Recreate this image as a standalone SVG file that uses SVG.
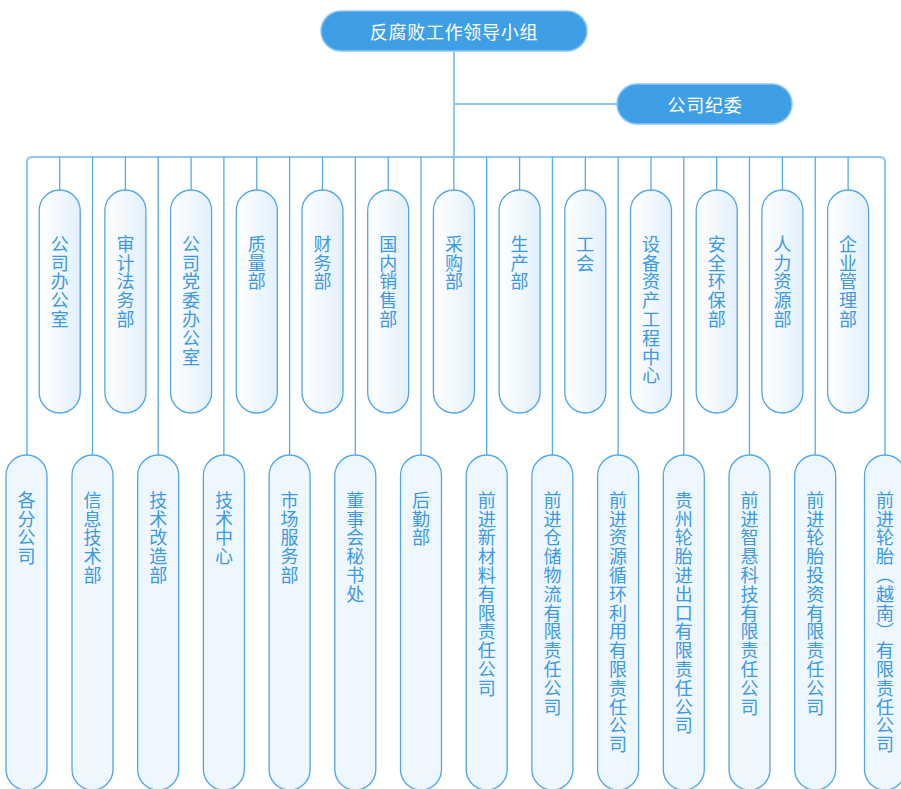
<svg xmlns="http://www.w3.org/2000/svg" width="901" height="789" viewBox="0 0 901 789">
<defs>
<linearGradient id="gTop" x1="0" y1="0" x2="1" y2="0">
<stop offset="0" stop-color="#ffffff"/>
<stop offset="1" stop-color="#e2f0fc"/>
</linearGradient>
<style>
.head{fill:#3f9fe6;stroke:#8cc7f2;stroke-width:1.5}
.headt{font-family:"Noto Sans CJK SC","Noto Sans",sans-serif;font-size:18px;fill:#ffffff;text-anchor:middle;dominant-baseline:central;letter-spacing:0.7px}
.tb{fill:url(#gTop);stroke:#4fa6e8;stroke-width:1.3}
.bb{fill:#eef7fe;stroke:#4fa6e8;stroke-width:1.3}
.vt{font-family:"Noto Sans CJK SC","Noto Sans",sans-serif;font-size:18px;fill:#3d99e3;writing-mode:vertical-rl;text-orientation:mixed;letter-spacing:0.8px}
.ln{fill:none;stroke:#55abea;stroke-width:1.3}
.bus{fill:none;stroke:#8ec8f3;stroke-width:2.2}
</style>
</defs>
<g id="connectors">
<path class="ln" d="M454,51 V157"/>
<path class="bus" d="M454,104 H617"/>
<path class="bus" d="M27,455 V162 Q27,157 32,157 H880 Q885,157 885,162 V455"/>
<path class="ln" d="M59.7,157 V190 M125.4,157 V190 M191.1,157 V190 M256.8,157 V190 M322.5,157 V190 M388.2,157 V190 M453.9,157 V190 M519.6,157 V190 M585.3,157 V190 M651,157 V190 M716.7,157 V190 M782.4,157 V190 M848.1,157 V190"/>
<path class="ln" d="M92.5,157 V455 M158.2,157 V455 M223.9,157 V455 M289.6,157 V455 M355.3,157 V455 M421,157 V455 M486.7,157 V455 M552.4,157 V455 M618.1,157 V455 M683.8,157 V455 M749.5,157 V455 M815.2,157 V455"/>
</g>
<g id="n-root"><rect class="head" x="321" y="11" width="266" height="40" rx="20"/><text class="headt" x="454" y="31">反腐败工作领导小组</text></g>
<g id="n-jiwei"><rect class="head" x="617" y="84" width="175" height="40" rx="20"/><text class="headt" x="705" y="104">公司纪委</text></g>

<g id="t1"><rect class="tb" x="39.2" y="190" width="41" height="223" rx="20.5"/><text class="vt" x="59.7" y="235">公司办公室</text></g>
<g id="t2"><rect class="tb" x="104.9" y="190" width="41" height="223" rx="20.5"/><text class="vt" x="125.4" y="235">审计法务部</text></g>
<g id="t3"><rect class="tb" x="170.6" y="190" width="41" height="223" rx="20.5"/><text class="vt" x="191.1" y="235">公司党委办公室</text></g>
<g id="t4"><rect class="tb" x="236.3" y="190" width="41" height="223" rx="20.5"/><text class="vt" x="256.8" y="235">质量部</text></g>
<g id="t5"><rect class="tb" x="302" y="190" width="41" height="223" rx="20.5"/><text class="vt" x="322.5" y="235">财务部</text></g>
<g id="t6"><rect class="tb" x="367.7" y="190" width="41" height="223" rx="20.5"/><text class="vt" x="388.2" y="235">国内销售部</text></g>
<g id="t7"><rect class="tb" x="433.4" y="190" width="41" height="223" rx="20.5"/><text class="vt" x="453.9" y="235">采购部</text></g>
<g id="t8"><rect class="tb" x="499.1" y="190" width="41" height="223" rx="20.5"/><text class="vt" x="519.6" y="235">生产部</text></g>
<g id="t9"><rect class="tb" x="564.8" y="190" width="41" height="223" rx="20.5"/><text class="vt" x="585.3" y="235">工会</text></g>
<g id="t10"><rect class="tb" x="630.5" y="190" width="41" height="223" rx="20.5"/><text class="vt" x="651" y="235">设备资产工程中心</text></g>
<g id="t11"><rect class="tb" x="696.2" y="190" width="41" height="223" rx="20.5"/><text class="vt" x="716.7" y="235">安全环保部</text></g>
<g id="t12"><rect class="tb" x="761.9" y="190" width="41" height="223" rx="20.5"/><text class="vt" x="782.4" y="235">人力资源部</text></g>
<g id="t13"><rect class="tb" x="827.6" y="190" width="41" height="223" rx="20.5"/><text class="vt" x="848.1" y="235">企业管理部</text></g>

<g id="b1"><rect class="bb" x="6" y="455" width="41" height="335" rx="20.5"/><text class="vt" x="26.5" y="491">各分公司</text></g>
<g id="b2"><rect class="bb" x="72" y="455" width="41" height="335" rx="20.5"/><text class="vt" x="92.5" y="491">信息技术部</text></g>
<g id="b3"><rect class="bb" x="137.7" y="455" width="41" height="335" rx="20.5"/><text class="vt" x="158.2" y="491">技术改造部</text></g>
<g id="b4"><rect class="bb" x="203.4" y="455" width="41" height="335" rx="20.5"/><text class="vt" x="223.9" y="491">技术中心</text></g>
<g id="b5"><rect class="bb" x="269.1" y="455" width="41" height="335" rx="20.5"/><text class="vt" x="289.6" y="491">市场服务部</text></g>
<g id="b6"><rect class="bb" x="334.8" y="455" width="41" height="335" rx="20.5"/><text class="vt" x="355.3" y="491">董事会秘书处</text></g>
<g id="b7"><rect class="bb" x="400.5" y="455" width="41" height="335" rx="20.5"/><text class="vt" x="421" y="491">后勤部</text></g>
<g id="b8"><rect class="bb" x="466.2" y="455" width="41" height="335" rx="20.5"/><text class="vt" x="486.7" y="491">前进新材料有限责任公司</text></g>
<g id="b9"><rect class="bb" x="531.9" y="455" width="41" height="335" rx="20.5"/><text class="vt" x="552.4" y="491">前进仓储物流有限责任公司</text></g>
<g id="b10"><rect class="bb" x="597.6" y="455" width="41" height="335" rx="20.5"/><text class="vt" x="618.1" y="491">前进资源循环利用有限责任公司</text></g>
<g id="b11"><rect class="bb" x="663.3" y="455" width="41" height="335" rx="20.5"/><text class="vt" x="683.8" y="491">贵州轮胎进出口有限责任公司</text></g>
<g id="b12"><rect class="bb" x="729" y="455" width="41" height="335" rx="20.5"/><text class="vt" x="749.5" y="491">前进智悬科技有限责任公司</text></g>
<g id="b13"><rect class="bb" x="794.7" y="455" width="41" height="335" rx="20.5"/><text class="vt" x="815.2" y="491">前进轮胎投资有限责任公司</text></g>
<g id="b14"><rect class="bb" x="864.5" y="455" width="41" height="335" rx="20.5"/><text class="vt" x="885" y="491">前进轮胎（越南）有限责任公司</text></g>
</svg>
